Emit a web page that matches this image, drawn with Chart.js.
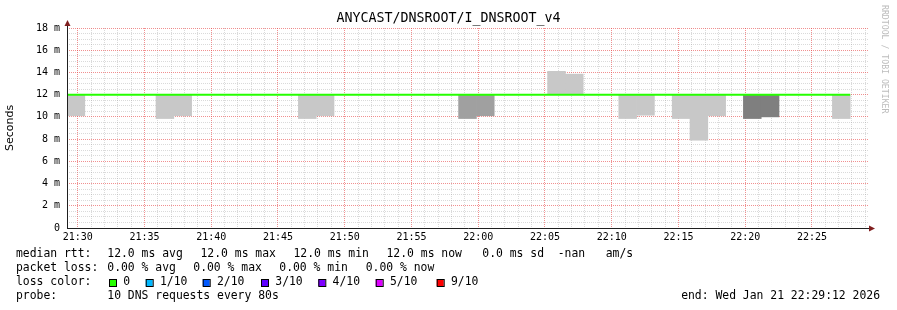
<!DOCTYPE html>
<html>
<head>
<meta charset="utf-8">
<script src="https://cdn.jsdelivr.net/npm/chart.js@4/dist/chart.umd.min.js"></script>
<style>
  html, body { margin: 0; padding: 0; background: #fff; }
</style>
</head>
<body>
<canvas id="chart" width="897" height="310"></canvas>
<script>
// one probe round every 80 s, graph runs 21:29:12 .. 22:29:12
var stepSeconds = 80;
var spanSeconds = 3600;
var firstTickOffset = 48; // seconds from graph start to 21:30:00

var xLabels = ['21:30', '21:35', '21:40', '21:45', '21:50', '21:55',
               '22:00', '22:05', '22:10', '22:15', '22:20', '22:25'];
var yLabels = ['0', '2 m', '4 m', '6 m', '8 m', '10 m', '12 m', '14 m', '16 m', '18 m'];

// median rtt per round (ms)
var medianRtt = [12, 12, 12, 12, 12, 12, 12, 12, 12, 12,
                 12, 12, 12, 12, 12, 12, 12, 12, 12, 12,
                 12, 12, 12, 12, 12, 12, 12, 12, 12, 12,
                 12, 12, 12, 12, 12, 12, 12, 12, 12, 12,
                 12, 12, 12, 12, null];

// smoke: spread of the 10 pings per round (ms)
var smokeLow = [10.1, null, null, null, null, 9.85, 10.1, null, null, null,
                null, null, null, 9.85, 10.1, null, null, null, null, null,
                null, null, 9.85, 10.1, null, null, null, 12, 12, null,
                null, 9.85, 10.15, null, 9.85, 7.9, 10.1, null, 9.85, 10.0,
                null, null, null, 9.85, null];
var smokeHigh = [12, null, null, null, null, 12, 12, null, null, null,
                 null, null, null, 12, 12, null, null, null, null, null,
                 null, null, 12, 12, null, null, null, 14.1, 13.85, null,
                 null, 12, 12, null, 12, 12, 12, null, 12, 12,
                 null, null, null, 12, null];
var smokeShade = [0, 0, 0, 0, 0, 0, 0, 0, 0, 0,
                  0, 0, 0, 0, 0, 0, 0, 0, 0, 0,
                  0, 0, 1, 1, 0, 0, 0, 0, 0, 0,
                  0, 0, 0, 0, 0, 0, 0, 0, 2, 2,
                  0, 0, 0, 0, 0];

var shadeColors = ['#c8c8c8', '#a0a0a0', '#7f7f7f'];

var lossLabels = ['0', '1/10', '2/10', '3/10', '4/10', '5/10', '9/10'];
var lossColors = ['#26ff00', '#00b8ff', '#0059ff', '#5e00ff', '#7e00ff', '#dd00ff', '#ff0000'];

var rttStats = ['12.0 ms avg', '12.0 ms max', '12.0 ms min', '12.0 ms now', '0.0 ms sd  -nan   am/s'];
var lossStats = ['0.00 % avg', '0.00 % max', '0.00 % min', '0.00 % now'];

document.addEventListener('DOMContentLoaded', function() {
  var smokeData = [];
  var medianData = [];
  var lastMedian = -1;
  for (var i = 0; i < smokeLow.length; i++) {
    if (smokeLow[i] !== null) {
      smokeData.push({x: i * stepSeconds + stepSeconds / 2, y: [smokeLow[i], smokeHigh[i]], shade: smokeShade[i]});
    }
    if (medianRtt[i] !== null) {
      medianData.push({x: i * stepSeconds, y: medianRtt[i]});
      lastMedian = i;
    }
  }
  medianData.push({x: (lastMedian + 1) * stepSeconds, y: medianRtt[lastMedian]});

  var gridColor = function(major) {
    return major ? 'rgba(232,70,70,0.6)' : 'rgba(150,150,150,0.35)';
  };

  var decor = {
    id: 'decor',
    afterDraw: function(chart) {
      var c = chart.ctx, a = chart.chartArea;
      c.save();
      // axes + arrows
      c.strokeStyle = '#1f1f1f';
      c.lineWidth = 1;
      c.beginPath();
      c.moveTo(a.left + 0.5, a.bottom + 1);
      c.lineTo(a.left + 0.5, a.top - 3);
      c.moveTo(a.left, a.bottom + 0.5);
      c.lineTo(a.right + 2, a.bottom + 0.5);
      c.stroke();
      c.fillStyle = '#801f1f';
      c.beginPath();
      c.moveTo(a.left - 2.5, a.top - 2);
      c.lineTo(a.left + 3.5, a.top - 2);
      c.lineTo(a.left + 0.5, a.top - 8);
      c.fill();
      c.beginPath();
      c.moveTo(a.right + 1, a.bottom - 2.5);
      c.lineTo(a.right + 1, a.bottom + 3.5);
      c.lineTo(a.right + 7, a.bottom + 0.5);
      c.fill();

      // title
      c.fillStyle = '#000';
      c.font = '13.3px "DejaVu Sans Mono"';
      c.textAlign = 'center';
      c.textBaseline = 'middle';
      c.fillText('ANYCAST/DNSROOT/I_DNSROOT_v4', 448.5, 19);

      // watermark
      c.save();
      c.translate(884, 5);
      c.rotate(Math.PI / 2);
      c.fillStyle = '#bcbcbc';
      c.font = '8.2px "DejaVu Sans Mono"';
      c.textAlign = 'left';
      c.fillText('RRDTOOL / TOBI OETIKER', 0, 0);
      c.restore();

      // legend lines
      c.font = '11.4px "DejaVu Sans Mono"';
      c.textAlign = 'left';
      c.fillStyle = '#000';
      c.fillText('median rtt:', 16, 254.5);
      var rttX = [107.3, 200.5, 293.5, 386.5, 482.3];
      rttStats.forEach(function(s, k) { c.fillText(s, rttX[k], 254.5); });
      c.fillText('packet loss:', 16, 268.5);
      var lossX = [107.3, 193.3, 279.3, 365.7];
      lossStats.forEach(function(s, k) { c.fillText(s, lossX[k], 268.5); });
      c.fillText('loss color:', 16, 282.5);
      var boxX = [109, 145.7, 202.7, 261, 318.3, 375.7, 436.7];
      lossLabels.forEach(function(s, k) {
        c.fillStyle = lossColors[k];
        c.fillRect(boxX[k], 279, 7, 7);
        c.strokeStyle = '#000';
        c.strokeRect(boxX[k] + 0.5, 279.5, 7, 7);
        c.fillStyle = '#000';
        c.fillText(s, boxX[k] + 14.3, 282.5);
      });
      c.fillText('probe:', 16, 296.5);
      c.fillText('10 DNS requests every 80s', 107.3, 296.5);
      c.textAlign = 'right';
      c.fillText('end: Wed Jan 21 22:29:12 2026', 880, 296.5);
      c.restore();
    }
  };

  var ctx = document.getElementById('chart').getContext('2d');
  var chart = new Chart(ctx, {
    type: 'bar',
    data: {
      datasets: [{
        type: 'line',
        label: 'median rtt',
        data: medianData,
        borderColor: '#26ff00',
        borderWidth: 2,
        pointRadius: 0,
        stepped: true,
        fill: false,
        order: 1
      }, {
        type: 'bar',
        label: 'smoke',
        data: smokeData,
        backgroundColor: function(context) {
          return shadeColors[context.raw ? context.raw.shade : 0];
        },
        borderWidth: 0,
        barThickness: 17.8,
        order: 2
      }]
    },
    options: {
      responsive: false,
      animation: false,
      devicePixelRatio: 1,
      layout: { padding: { top: 28, right: 29, left: 0, bottom: 0 } },
      plugins: {
        legend: { display: false },
        tooltip: { enabled: false },
        title: { display: false }
      },
      scales: {
        x: {
          type: 'linear',
          min: 0,
          max: spanSeconds,
          offset: false,
          afterBuildTicks: function(scale) {
            var t = [];
            for (var v = firstTickOffset; v <= spanSeconds; v += 60) t.push({value: v});
            scale.ticks = t;
          },
          afterFit: function(scale) { scale.height = 82; },
          grid: {
            offset: false,
            drawTicks: false,
            color: function(c) { return gridColor(c.index % 5 === 0); }
          },
          border: { display: false, dash: [1, 1] },
          ticks: {
            autoSkip: false,
            maxRotation: 0,
            padding: 3,
            color: '#000',
            font: { family: 'DejaVu Sans Mono', size: 10 },
            callback: function(value, index) {
              return index % 5 === 0 ? xLabels[index / 5] : '';
            }
          }
        },
        y: {
          min: 0,
          max: 18,
          afterFit: function(scale) { scale.width = 67; },
          grid: {
            drawTicks: false,
            color: function(c) { return gridColor(c.tick && c.tick.value % 2 === 0); }
          },
          border: { display: false, dash: [1, 1] },
          ticks: {
            stepSize: 0.5,
            autoSkip: false,
            padding: 7,
            color: '#000',
            font: { family: 'DejaVu Sans Mono', size: 10 },
            callback: function(value) {
              return value % 2 === 0 ? yLabels[value / 2] : '';
            }
          },
          title: {
            display: true,
            text: 'Seconds',
            color: '#000',
            font: { family: 'DejaVu Sans', size: 11 },
            padding: { top: 4, bottom: 0 }
          }
        }
      }
    },
    plugins: [decor]
  });
});
</script>
</body>
</html>
